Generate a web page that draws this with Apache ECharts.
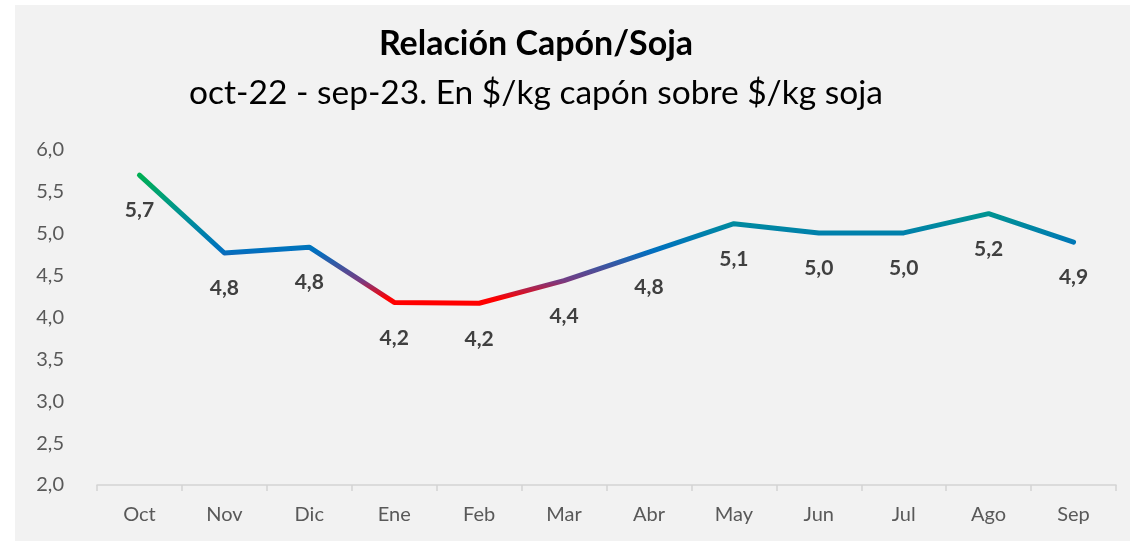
<!DOCTYPE html>
<html>
<head>
<meta charset="utf-8">
<script src="https://cdn.jsdelivr.net/npm/echarts@6/dist/echarts.min.js"></script>
<style>
  html, body { margin: 0; padding: 0; background: #ffffff; }
  #chart { position: absolute; left: 15px; top: 5px; width: 1115px; height: 536px; background: #f2f2f2; }
</style>
</head>
<body>
<div id="chart"></div>
<script>
const months = ['Oct', 'Nov', 'Dic', 'Ene', 'Feb', 'Mar', 'Abr', 'May', 'Jun', 'Jul', 'Ago', 'Sep']
const ratio = [5.70, 4.77, 4.84, 4.18, 4.17, 4.44, 4.78, 5.12, 5.01, 5.01, 5.24, 4.90]
const yTicks = [2.0, 6.0, 0.5] // min, max, step

const chart = echarts.init(document.getElementById('chart'))
const font = 'Lato, "Open Sans", sans-serif'

// color follows the value: red at the bottom, blue in the middle, teal and green at the top
const hi = Math.max(...ratio)
const lo = Math.min(...ratio)
const stop = v => Math.min(1, Math.max(0, (hi - v) / (hi - lo)))
const lineColor = new echarts.graphic.LinearGradient(0, 0, 0, 1, [
  { offset: 0, color: '#00b050' },
  { offset: stop(5.25), color: '#00958f' },
  { offset: stop(5.0), color: '#0080ac' },
  { offset: stop(4.8), color: '#0070c0' },
  { offset: stop(4.45), color: '#7a3a80' },
  { offset: stop(4.25), color: '#ff0000' },
  { offset: 1, color: '#ff0000' }
])

const seriesData = ratio.map((v, i) => {
  const item = { value: v }
  if (i === 0) item.label = { offset: [-6, 0] }
  return item
})

chart.setOption({
  animation: false,
  textStyle: { fontFamily: font },
  graphic: [
    {
      type: 'text',
      x: 521, y: 39,
      style: { text: 'Relación Capón/Soja', align: 'center', verticalAlign: 'middle',
        fontSize: 34, fontWeight: 'bold', fontFamily: font, fill: '#000000' }
    },
    {
      type: 'text',
      x: 521, y: 88,
      style: { text: 'oct-22 - sep-23. En $/kg capón sobre $/kg soja', align: 'center', verticalAlign: 'middle',
        fontSize: 33.5, fontFamily: font, fill: '#000000' }
    }
  ],
  grid: { left: 82, right: 14, top: 145, bottom: 56 },
  xAxis: {
    type: 'category',
    data: months,
    boundaryGap: true,
    axisLine: { lineStyle: { color: '#d4d4d4', width: 1.5 } },
    axisTick: { show: true, length: 6, lineStyle: { color: '#d4d4d4', width: 1.5 } },
    axisLabel: { color: '#595959', fontSize: 20, margin: 20, fontFamily: font }
  },
  yAxis: {
    type: 'value',
    min: yTicks[0],
    max: yTicks[1],
    interval: yTicks[2],
    axisLine: { show: false },
    axisTick: { show: false },
    splitLine: { show: false },
    axisLabel: {
      color: '#595959', fontSize: 20, margin: 33, fontFamily: font,
      formatter: v => v.toFixed(1).replace('.', ',')
    }
  },
  series: [{
    type: 'line',
    data: seriesData,
    showSymbol: true,
    symbol: 'circle',
    symbolSize: 0.1,
    itemStyle: { color: 'rgba(0,0,0,0)' },
    lineStyle: { width: 5, color: lineColor, cap: 'round', join: 'round' },
    labelLayout: { hideOverlap: false },
    label: {
      show: true,
      position: 'bottom',
      distance: 25,
      color: '#404040',
      fontWeight: 'bold',
      fontSize: 21,
      fontFamily: font,
      formatter: p => p.value.toFixed(1).replace('.', ',')
    }
  }]
})
</script>
</body>
</html>
